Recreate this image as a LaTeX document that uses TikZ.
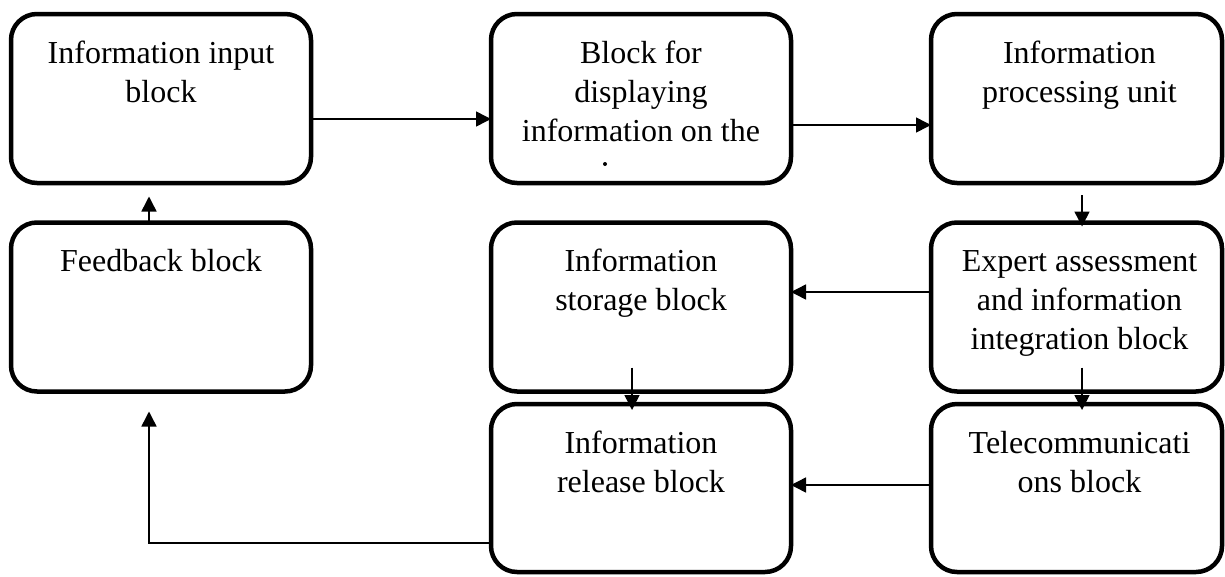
\documentclass[tikz,border=0pt]{standalone}
\usepackage{fontspec}
\setmainfont{Liberation Serif}
\usetikzlibrary{arrows.meta}
\tikzset{
  blockbox/.style={draw, line width=4.5pt, rounded corners=26pt, rectangle,
    minimum width=300pt, minimum height=169pt, outer sep=0pt, inner sep=0pt},
  rightbox/.style={blockbox, minimum width=291pt},
  txt/.style={align=center, inner sep=0pt, outer sep=0pt,
    font=\fontsize{32}{39}\selectfont, anchor=north},
  arr/.style={line width=1.5pt, -{Triangle[length=15pt,width=15pt]}},
  clipdot/.style={circle, fill, inner sep=0pt, minimum size=4pt},
}
\begin{document}
\begin{tikzpicture}[x=1pt,y=-1pt]
\useasboundingbox (0,0) rectangle (1225,576);
% boxes (centres in pixel units)
\node[blockbox] (inp) at (161,98.5) {};
\node[blockbox] (disp) at (641,98.5) {};
\node[rightbox] (proc) at (1076.5,98.5) {};
\node[blockbox] (fb) at (161,307) {};
\node[blockbox] (stor) at (641,307) {};
\node[rightbox] (exp) at (1076.5,307) {};
\node[blockbox, minimum height=168pt] (rel) at (641,488) {};
\node[rightbox, minimum height=168pt] (tel) at (1076.5,488) {};
% texts
\node[txt] (tinp) at ([yshift=-22pt]inp.north) {\strut Information input\\block};
\node[txt] (tdisp) at ([yshift=-22pt]disp.north) {\strut Block for\\displaying\\information on the};
\node[clipdot] (tdot) at (605,164) {};
\node[txt] (tproc) at ([xshift=3pt,yshift=-22pt]proc.north) {\strut Information\\processing unit};
\node[txt] (tfb) at ([yshift=-22pt]fb.north) {\strut Feedback block};
\node[txt] (tstor) at ([yshift=-22pt]stor.north) {\strut Information\\storage block};
\node[txt] (texp) at ([xshift=3pt,yshift=-22pt]exp.north) {\strut Expert assessment\\and information\\integration block};
\node[txt] (trel) at ([yshift=-22pt]rel.north) {\strut Information\\release block};
\node[txt] (ttel) at ([xshift=3pt,yshift=-22pt]tel.north) {\strut Telecommunicati\\ons block};
% connectors
\draw[arr] ([yshift=-20.5pt]inp.east) -- ([yshift=-20.5pt]disp.west);
\draw[arr] ([yshift=-26.5pt]disp.east) -- ([yshift=-26.5pt]proc.west);
\draw[arr] ([xshift=5.5pt,yshift=-12pt]proc.south) -- ([xshift=5.5pt,yshift=-4pt]exp.north);
\draw[arr] ([yshift=15pt]exp.west) -- ([yshift=15pt]stor.east);
\draw[arr] ([xshift=5.5pt,yshift=24pt]exp.south) -- ([xshift=5.5pt,yshift=-6pt]tel.north);
\draw[arr] ([xshift=-9pt,yshift=24pt]stor.south) -- ([xshift=-9pt,yshift=-6pt]rel.north);
\draw[arr] ([yshift=3pt]tel.west) -- ([yshift=3pt]rel.east);
\draw[arr] ([yshift=-55pt]rel.west) -| ([xshift=-12pt,yshift=-20pt]fb.south);
\draw[arr] ([xshift=-12pt]fb.north) -- ([xshift=-12pt,yshift=-13.5pt]inp.south);
\end{tikzpicture}
\end{document}
